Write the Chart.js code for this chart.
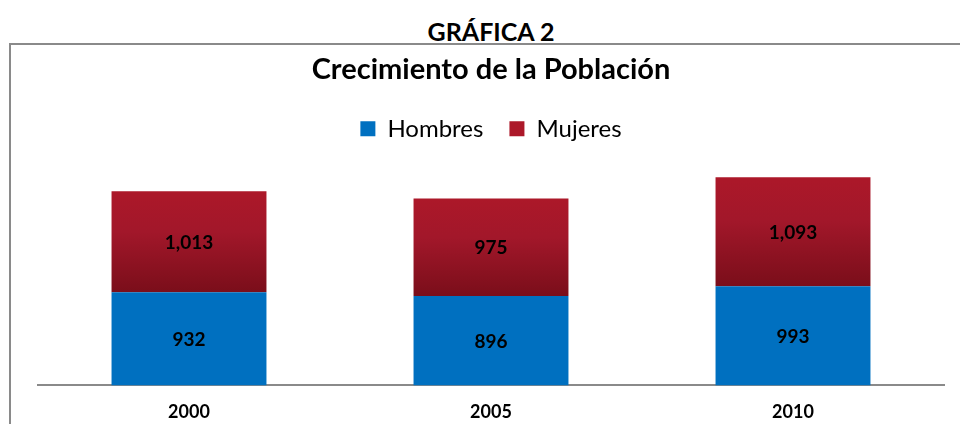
<!DOCTYPE html>
<html>
<head>
<meta charset="utf-8">
<script src="https://cdn.jsdelivr.net/npm/chart.js@4/dist/chart.umd.min.js"></script>
<style>
  body { margin: 0; background: #fff; font-family: Lato, 'Open Sans', sans-serif; overflow: hidden; }
  #heading {
    position: absolute; left: 0; top: 16px; width: 982px; line-height: 30px;
    text-align: center; font-weight: bold; font-size: 25px; color: #000;
  }
  #box {
    position: absolute; left: 9px; top: 43px; width: 951px; height: 381px;
    border-left: 2px solid #8a8a8a; border-top: 2px solid #8a8a8a;
  }
  #wrap { position: absolute; left: 0; top: 0; width: 949px; height: 397px; }
</style>
</head>
<body>
<div id="heading">GRÁFICA 2</div>
<div id="box"><div id="wrap"><canvas id="chart"></canvas></div></div>
<script>
  'use strict';

  // Data
  const years = ['2000', '2005', '2010'];
  const hombres = [932, 896, 993];
  const mujeres = [1013, 975, 1093];

  const colors = {
    blue: '#0070c0',
    redTop: '#ac1829',
    redBottom: '#7a0e1a'
  };

  // Red gradient per bar, built from the y scale
  function mujeresFill(ctx) {
    const chart = ctx.chart;
    const y = chart.scales.y;
    if (!y || ctx.dataIndex == null) return colors.redTop;
    const i = ctx.dataIndex;
    const top = y.getPixelForValue(hombres[i] + mujeres[i]);
    const bottom = y.getPixelForValue(hombres[i]);
    if (!isFinite(top) || !isFinite(bottom)) return colors.redTop;
    const g = chart.ctx.createLinearGradient(0, top, 0, bottom);
    g.addColorStop(0, colors.redTop);
    g.addColorStop(0.4, '#a2172a');
    g.addColorStop(1, colors.redBottom);
    return g;
  }

  // Value labels in the middle of each segment
  const valueLabels = {
    id: 'valueLabels',
    afterDatasetsDraw(chart) {
      const ctx = chart.ctx;
      ctx.save();
      ctx.font = 'bold 19px Lato, sans-serif';
      ctx.fillStyle = '#000';
      ctx.textAlign = 'center';
      ctx.textBaseline = 'middle';
      chart.data.datasets.forEach((ds, di) => {
        const meta = chart.getDatasetMeta(di);
        meta.data.forEach((bar, i) => {
          const p = bar.getProps(['x', 'y', 'base'], true);
          ctx.fillText(ds.data[i].toLocaleString('en-US'), p.x, (p.y + p.base) / 2 + 1);
        });
      });
      ctx.restore();
    }
  };

  new Chart(document.getElementById('chart'), {
    type: 'bar',
    data: {
      labels: years,
      datasets: [
        { label: 'Hombres', data: hombres, backgroundColor: colors.blue },
        { label: 'Mujeres', data: mujeres, backgroundColor: mujeresFill }
      ]
    },
    options: {
      responsive: true,
      maintainAspectRatio: false,
      animation: false,
      barPercentage: 0.513,
      categoryPercentage: 1,
      layout: { padding: { left: 27, right: 16, top: 0, bottom: 3 } },
      plugins: {
        title: {
          display: true,
          text: 'Crecimiento de la Población',
          color: '#000',
          font: { family: 'Lato', size: 29, weight: 'bold' },
          padding: { top: 7, bottom: 4 }
        },
        legend: {
          position: 'top',
          labels: {
            color: '#000',
            font: { family: 'Lato', size: 24 },
            boxWidth: 15,
            boxHeight: 15,
            padding: 26,
            generateLabels(chart) {
              return chart.data.datasets.map((ds, i) => ({
                text: ds.label,
                fillStyle: i === 0 ? colors.blue : colors.redTop,
                strokeStyle: 'rgba(0,0,0,0)',
                lineWidth: 0,
                datasetIndex: i
              }));
            }
          }
        },
        tooltip: { enabled: false }
      },
      scales: {
        x: {
          stacked: true,
          grid: { display: false, drawTicks: false },
          border: { display: true, color: '#8a8a8a', width: 2 },
          ticks: { color: '#000', font: { family: 'Lato', size: 18, weight: 'bold' }, padding: 16 }
        },
        y: {
          stacked: true,
          display: false,
          min: 0,
          max: 2350
        }
      }
    },
    plugins: [valueLabels]
  });
</script>
</body>
</html>
